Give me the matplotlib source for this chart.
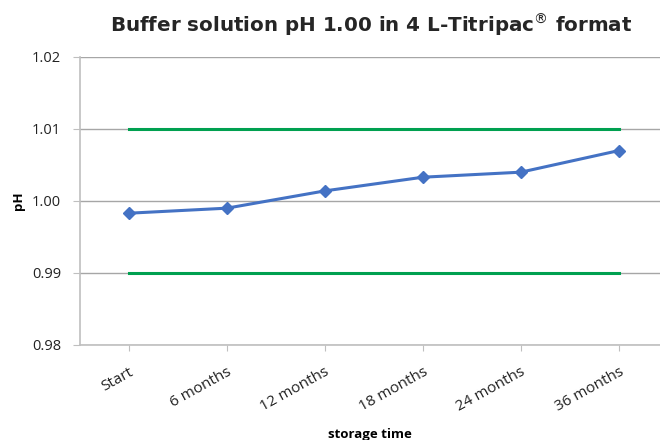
import numpy as np
import matplotlib.pyplot as plt

categories = ["Start", "6 months", "12 months", "18 months", "24 months", "36 months"]
ph_values = [0.9983, 0.9990, 1.0014, 1.0033, 1.0040, 1.0070]
upper_limit = [1.01] * 6
lower_limit = [0.99] * 6

plt.rcParams['font.family'] = ['Open Sans', 'DejaVu Sans']

fig = plt.figure(figsize=(6.6, 4.4), dpi=100)
ax = fig.add_axes([0.121, 0.216, 0.879, 0.6545])

x = np.arange(len(categories))
ax.plot(x, upper_limit, color='#00A050', lw=2.2, zorder=3)
ax.plot(x, lower_limit, color='#00A050', lw=2.2, zorder=3)
ax.plot(x, ph_values, color='#4472C4', lw=2.2, marker='D', ms=6.5, zorder=4)

ax.set_xlim(-0.5, 5.42)
ax.set_ylim(0.98, 1.02)
ax.set_yticks([0.98, 0.99, 1.00, 1.01, 1.02])
ax.set_yticklabels(["0.98", "0.99", "1.00", "1.01", "1.02"])
ax.set_xticks(x)
ax.set_xticklabels(categories, rotation=29, ha='right', rotation_mode='anchor')
ax.tick_params(axis='x', length=4, color='#BFBFBF', labelsize=11, pad=10)
ax.tick_params(axis='y', length=5, color='#BFBFBF', labelsize=10.5, pad=8.5)
for lab in ax.get_xticklabels() + ax.get_yticklabels():
    lab.set_color('#222222')

ax.grid(axis='y', color='#A6A6A6', lw=1)
ax.set_axisbelow(True)
for s in ['top', 'right']:
    ax.spines[s].set_visible(False)
for s in ['left', 'bottom']:
    ax.spines[s].set_color('#BFBFBF')
    ax.spines[s].set_linewidth(1.2)

ax.set_ylabel("pH", fontweight='bold', fontsize=9.5, labelpad=5)
ax.xaxis.set_label_coords(0.505, -0.288)
ax.set_xlabel("storage time", fontweight='bold', fontsize=9.5, va='top')
fig.text(0.563, 0.943, r"Buffer solution pH 1.00 in 4 L-Titripac$^{\circledR}$ format",
         ha='center', va='center', fontsize=14.3, fontweight='bold',
         family='DejaVu Sans', color='#262626')

fig.savefig("out.png", dpi=100)
